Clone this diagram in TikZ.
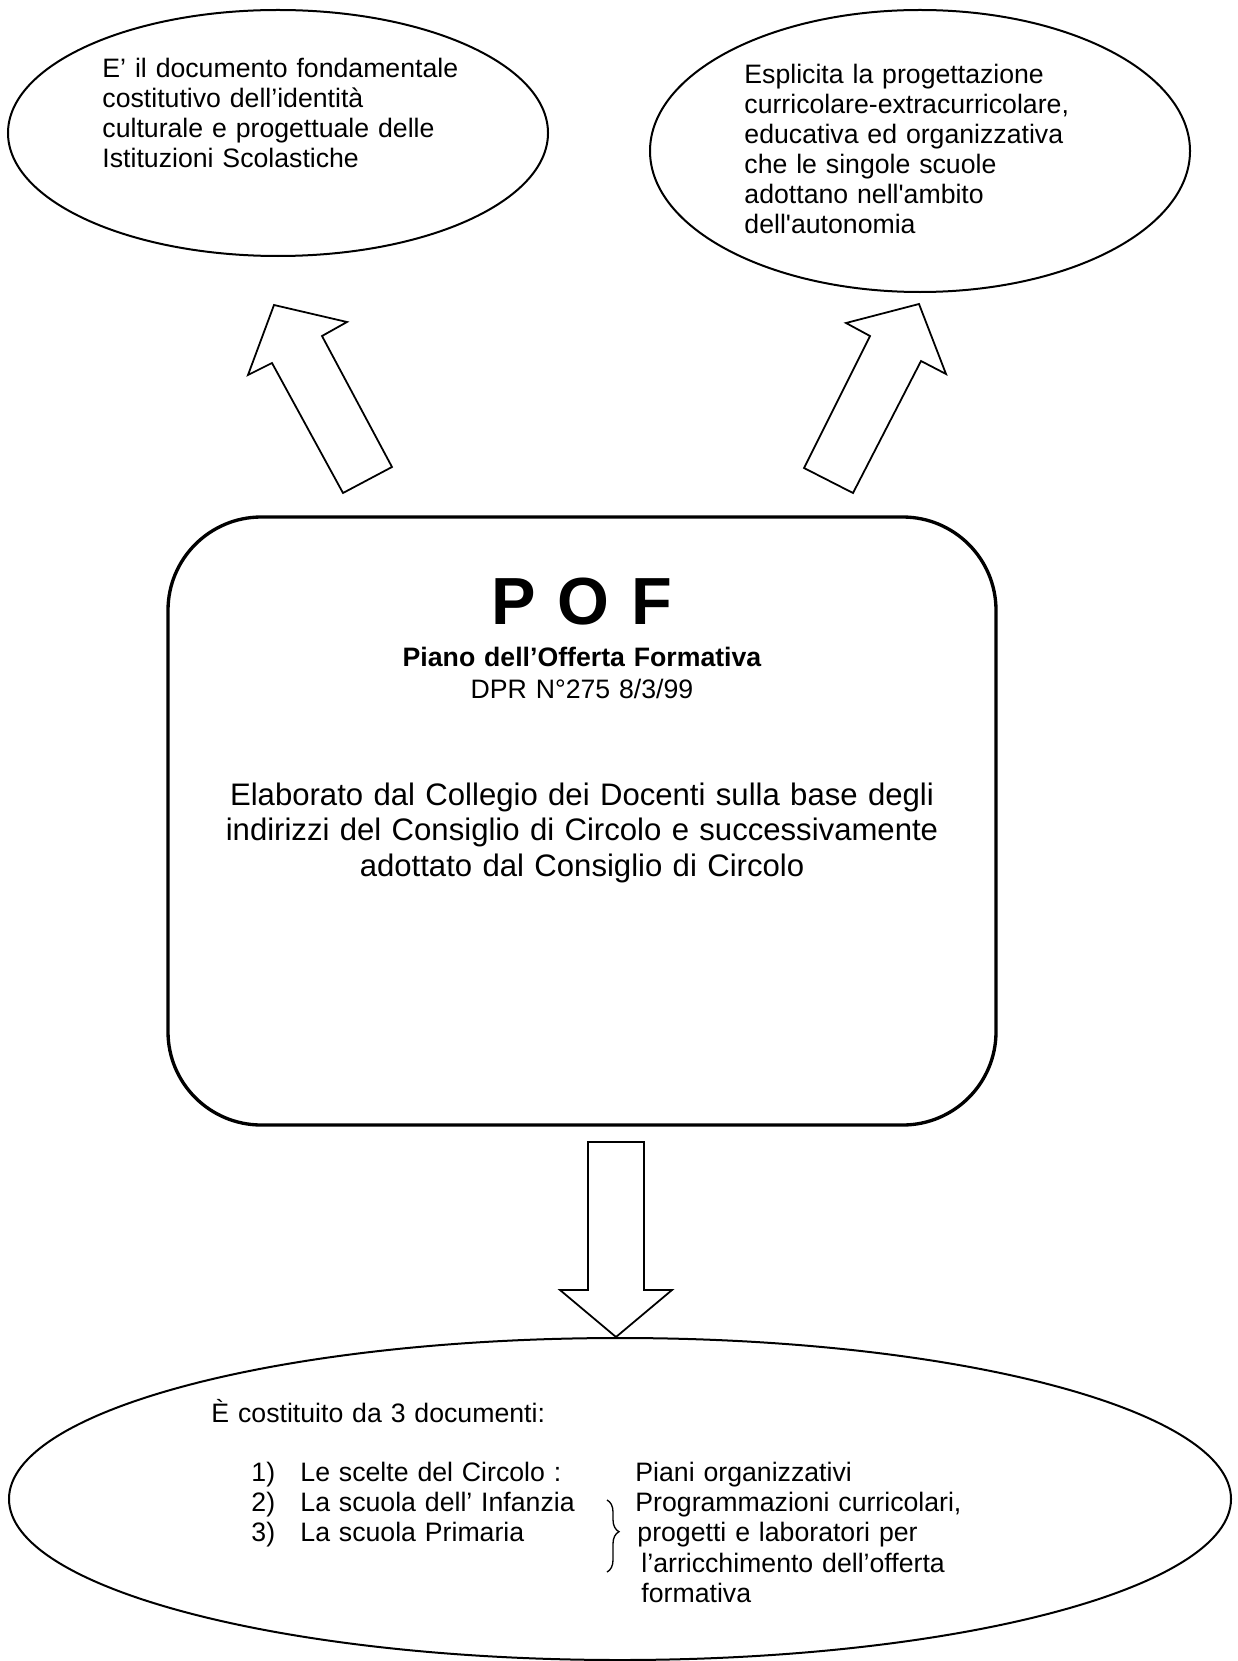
\documentclass[tikz,border=0pt]{standalone}
\usepackage{fontspec}
\setmainfont{Liberation Sans}[Ligatures=TeXOff]
\usetikzlibrary{shapes.geometric,decorations.pathreplacing}

\begin{document}
\begin{tikzpicture}[x=0.45pt,y=-0.45pt,
  bubble/.style={draw,ellipse,line width=0.9pt,inner sep=0pt},
  blockarrow/.style={draw,line width=0.8pt,line join=miter},
  bodytext/.style={anchor=base west,inner sep=0pt,align=left,text width=#1,
    font=\fontsize{12}{13.5}\selectfont},
  centertext/.style={anchor=base,inner sep=0pt,align=center,text width=#1}]

\useasboundingbox (0,0) rectangle (1237,1661);

% upper bubbles
\node[bubble,minimum width=243pt,minimum height=110.7pt] (identita) at (278,133) {};
\node[bubble,minimum width=243pt,minimum height=126.9pt] (progetto) at (920,151) {};

\node[bodytext=190pt] (identitatxt) at (102,77.5)
  {E’ il documento fondamentale\\costitutivo dell’identità\\culturale e progettuale delle\\Istituzioni Scolastiche};
\node[bodytext=190pt] (progettotxt) at (744,84)
  {Esplicita la progettazione\\curricolare-extracurricolare,\\educativa ed organizzativa\\che le singole scuole\\adottano nell'ambito\\dell'autonomia};

% block arrows pointing up to the bubbles
\draw[blockarrow] (274,305) -- (347,322) -- (322,336) -- (392,467) -- (343,493)
  -- (272,363) -- (248,375) -- cycle;
\draw[blockarrow] (919,304) -- (946,374) -- (921,361) -- (853,493) -- (804,468)
  -- (870,336) -- (846,323) -- cycle;

% central box
\node[draw,rounded corners=42pt,line width=1.5pt,minimum width=372.6pt,
  minimum height=273.6pt,inner sep=0pt] (pof) at (582,821) {};
\node[centertext=300pt,font=\fontsize{30}{34}\bfseries] (poftitle) at (582,624) {P O F};
\node[centertext=300pt,font=\fontsize{12}{13.8}\bfseries] (pofname) at (582,666)
  {Piano dell’Offerta Formativa};
\node[centertext=300pt,font=\fontsize{12}{13.8}\selectfont] (pofdpr) at (582,698.5)
  {DPR N°275 8/3/99};
\node[centertext=360pt,font=\fontsize{14}{16}\selectfont] (pofbody) at (582,805)
  {Elaborato dal Collegio dei Docenti sulla base degli\\indirizzi del Consiglio di Circolo e successivamente\\adottato dal Consiglio di Circolo};

% block arrow pointing down
\draw[blockarrow] (588,1142) -- (644,1142) -- (644,1290) -- (672,1290) -- (616,1337)
  -- (560,1290) -- (588,1290) -- cycle;

% lower bubble
\node[bubble,minimum width=549.9pt,minimum height=144.9pt] (documenti) at (620,1499) {};
\node[bodytext=250pt] (doctitle) at (211,1422.5) {È costituito da 3 documenti:};
\node[bodytext=40pt,font=\fontsize{12}{13.7}\selectfont] (docnum) at (251,1481) {1)\\2)\\3)};
\node[bodytext=200pt,font=\fontsize{12}{13.7}\selectfont] (docitems) at (300,1481)
  {Le scelte del Circolo :\\La scuola dell’ Infanzia\\La scuola Primaria};
\node[bodytext=200pt,font=\fontsize{12}{13.7}\selectfont] (docright) at (635,1481)
  {Piani organizzativi\\Programmazioni curricolari,\\\hspace*{0.9pt}progetti e laboratori per\\\hspace*{2.7pt}l’arricchimento dell’offerta\\\hspace*{2.7pt}formativa};
\draw[decorate,decoration={brace,amplitude=5.4pt,aspect=0.44},line width=0.6pt]
  (607,1500) -- (607,1572);

\end{tikzpicture}
\end{document}
